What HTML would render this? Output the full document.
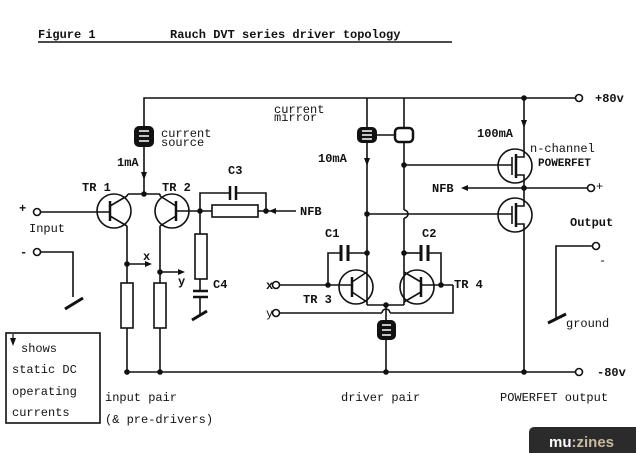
<!DOCTYPE html>
<html><head><meta charset="utf-8"><style>
html,body{margin:0;padding:0;background:#fff}
svg{display:block}
text{font-family:"Liberation Mono",monospace;fill:#111}
</style></head><body>
<svg width="636" height="453" viewBox="0 0 636 453" xmlns="http://www.w3.org/2000/svg">
<g stroke="#111" stroke-width="1.6" fill="none">
<line x1="38" y1="42" x2="452" y2="42"/>
<polyline points="144,126 144,98 575,98"/>
<circle cx="579" cy="98" r="3.5"/>
<line x1="144" y1="147" x2="144" y2="194"/>
<line x1="128" y1="194" x2="160" y2="194"/>
<circle cx="114" cy="211" r="17"/>
<line x1="110" y1="201" x2="110" y2="221" stroke-width="2.5"/>
<line x1="41" y1="212" x2="110" y2="212"/>
<line x1="110" y1="206" x2="127" y2="196"/><line x1="127" y1="196" x2="128" y2="194"/>
<line x1="110" y1="216" x2="127" y2="226"/>
<line x1="127" y1="226" x2="127" y2="372"/>
<circle cx="172" cy="211" r="17"/>
<line x1="176" y1="201" x2="176" y2="221" stroke-width="2.5"/>
<line x1="176" y1="211" x2="267" y2="211"/>
<line x1="176" y1="206" x2="160" y2="196"/><line x1="160" y1="196" x2="160" y2="194"/>
<line x1="176" y1="216" x2="160" y2="226"/>
<line x1="160" y1="226" x2="160" y2="372"/>
<line x1="127" y1="264" x2="145" y2="264"/>
<line x1="160" y1="272" x2="178" y2="272"/>
<circle cx="37" cy="212" r="3.5"/>
<circle cx="37" cy="252" r="3.5"/>
<polyline points="41,252 73,252 73,297"/>
<line x1="65" y1="309" x2="83" y2="298" stroke-width="3"/>
<rect x="121" y="283" width="12" height="45" fill="#fff"/>
<rect x="154" y="283" width="12" height="45" fill="#fff"/>
<polyline points="200,211 200,193 229,193"/>
<polyline points="237,193 266,193 266,211"/>
<line x1="230" y1="186" x2="230" y2="200" stroke-width="2.5"/>
<line x1="236" y1="186" x2="236" y2="200" stroke-width="2.5"/>
<rect x="212" y="205" width="46" height="12" fill="#fff"/>
<line x1="266" y1="211" x2="296" y2="211"/>
<line x1="200" y1="211" x2="200" y2="290"/>
<rect x="195" y="234" width="12" height="45" fill="#fff"/>
<line x1="193" y1="291" x2="208" y2="291" stroke-width="2.5"/>
<line x1="193" y1="297" x2="208" y2="297" stroke-width="2.5"/>
<line x1="200" y1="297" x2="200" y2="314"/>
<line x1="192" y1="320" x2="207" y2="311" stroke-width="3"/>
<line x1="127" y1="372" x2="575" y2="372"/>
<circle cx="579" cy="372" r="3.5"/>
<line x1="367" y1="98" x2="367" y2="127"/>
<line x1="404" y1="98" x2="404" y2="128"/>
<line x1="377" y1="135" x2="395" y2="135"/>
<rect x="395" y="128" width="18" height="14" rx="4" stroke-width="2.5"/>
<line x1="367" y1="143" x2="367" y2="305"/>
<line x1="404" y1="142" x2="404" y2="210"/>
<path d="M404,210 a4,4 0 0 1 0,8"/>
<line x1="404" y1="218" x2="404" y2="305"/>
<line x1="404" y1="165" x2="512" y2="165"/>
<line x1="367" y1="214" x2="512" y2="214"/>
<polyline points="367,253 349,253"/><polyline points="341,253 328,253 328,285"/>
<line x1="341" y1="245" x2="341" y2="261" stroke-width="3"/>
<line x1="348" y1="245" x2="348" y2="261" stroke-width="3"/>
<polyline points="404,253 420,253"/><polyline points="428,253 441,253 441,285"/>
<line x1="421" y1="245" x2="421" y2="261" stroke-width="3"/>
<line x1="428" y1="245" x2="428" y2="261" stroke-width="3"/>
<circle cx="356" cy="287" r="17"/>
<line x1="352" y1="277" x2="352" y2="297" stroke-width="2.5"/>
<line x1="280" y1="285" x2="352" y2="285"/>
<line x1="352" y1="282" x2="367" y2="272"/>
<line x1="352" y1="292" x2="367" y2="302"/>
<circle cx="417" cy="287" r="17"/>
<line x1="421" y1="277" x2="421" y2="297" stroke-width="2.5"/>
<line x1="421" y1="285" x2="453" y2="285"/>
<line x1="421" y1="282" x2="404" y2="272"/>
<line x1="421" y1="292" x2="404" y2="302"/>
<line x1="367" y1="305" x2="404" y2="305"/>
<circle cx="276" cy="285" r="3.5"/>
<circle cx="276" cy="313" r="3.5"/>
<line x1="280" y1="313" x2="382" y2="313"/>
<path d="M382,313 a4,4 0 0 1 8,0"/>
<polyline points="390,313 453,313 453,285"/>
<line x1="386" y1="305" x2="386" y2="320"/>
<line x1="386" y1="340" x2="386" y2="372"/>
<line x1="524" y1="98" x2="524" y2="150"/>
<line x1="524" y1="180" x2="524" y2="199"/>
<line x1="524" y1="229" x2="524" y2="372"/>
<circle cx="515" cy="166" r="17"/>
<line x1="512" y1="157" x2="512" y2="175"/>
<line x1="516" y1="154" x2="516" y2="178" stroke-width="2.5"/>
<polyline points="516,157 524,157 524,150"/>
<polyline points="516,175 524,175 524,180"/>
<circle cx="515" cy="215" r="17"/>
<line x1="512" y1="206" x2="512" y2="224"/>
<line x1="516" y1="203" x2="516" y2="227" stroke-width="2.5"/>
<polyline points="516,206 524,206 524,199"/>
<polyline points="516,224 524,224 524,229"/>
<line x1="468" y1="188" x2="588" y2="188"/>
<circle cx="591" cy="188" r="3.5"/>
<circle cx="596" cy="246" r="3.5"/>
<polyline points="592,246 556,246 556,318"/>
<line x1="548" y1="323" x2="566" y2="314" stroke-width="3"/>
<rect x="6" y="333" width="94" height="90"/>
</g>
<g fill="#111">
<rect x="134" y="126" width="20" height="21" rx="5"/>
<rect x="357" y="127" width="20" height="16" rx="5"/>
<rect x="377" y="320" width="19" height="20" rx="5"/>
</g>
<g stroke="#fff" stroke-width="1.5">
<line x1="139" y1="131" x2="149" y2="131"/><line x1="139" y1="136" x2="149" y2="136"/><line x1="139" y1="141" x2="149" y2="141"/>
<line x1="362" y1="131" x2="372" y2="131"/><line x1="362" y1="135" x2="372" y2="135"/><line x1="362" y1="139" x2="372" y2="139"/>
<line x1="382" y1="325" x2="391" y2="325"/><line x1="382" y1="330" x2="391" y2="330"/><line x1="382" y1="335" x2="391" y2="335"/>
</g>
<g fill="#111">
<circle cx="144" cy="194" r="2.8"/><circle cx="127" cy="264" r="2.8"/><circle cx="160" cy="272" r="2.8"/>
<circle cx="200" cy="211" r="2.8"/><circle cx="266" cy="211" r="2.8"/>
<circle cx="127" cy="372" r="2.8"/><circle cx="160" cy="372" r="2.8"/><circle cx="386" cy="372" r="2.8"/><circle cx="524" cy="372" r="2.8"/>
<circle cx="524" cy="98" r="2.8"/><circle cx="404" cy="165" r="2.8"/><circle cx="367" cy="214" r="2.8"/>
<circle cx="367" cy="253" r="2.8"/><circle cx="404" cy="253" r="2.8"/><circle cx="328" cy="285" r="2.8"/><circle cx="441" cy="285" r="2.8"/>
<circle cx="386" cy="305" r="2.8"/><circle cx="524" cy="188" r="2.8"/>
<polygon points="141,172 147,172 144,180"/>
<polygon points="364,158 370,158 367,166"/>
<polygon points="521,120 527,120 524,128"/>
<polygon points="145,261 145,267 152,264"/>
<polygon points="178,269 178,275 185,272"/>
<polygon points="276,208 276,214 269,211"/>
<polygon points="468,185 468,191 461,188"/>
<polygon points="10,338 16,338 13,346"/>
<line x1="13" y1="334" x2="13" y2="340" stroke="#111" stroke-width="1.2"/>
</g>
<g font-size="12">
<text x="38" y="38" font-weight="bold">Figure 1</text>
<text x="170" y="38" font-weight="bold">Rauch DVT series driver topology</text>
<text x="161" y="137">current</text><text x="161" y="146">source</text>
<text x="274" y="113">current</text><text x="274" y="121">mirror</text>
<text x="117" y="166" font-weight="bold">1mA</text>
<text x="318" y="162" font-weight="bold">10mA</text>
<text x="477" y="137" font-weight="bold">100mA</text>
<text x="530" y="152">n-channel</text>
<text x="538" y="166" font-weight="bold" font-size="11">POWERFET</text>
<text x="82" y="191" font-weight="bold">TR 1</text>
<text x="162" y="191" font-weight="bold">TR 2</text>
<text x="228" y="174" font-weight="bold">C3</text>
<text x="213" y="288" font-weight="bold">C4</text>
<text x="300" y="215" font-weight="bold">NFB</text>
<text x="432" y="192" font-weight="bold">NFB</text>
<text x="19" y="212" font-weight="bold">+</text>
<text x="29" y="232">Input</text>
<text x="20" y="256" font-weight="bold">-</text>
<text x="143" y="260" font-weight="bold">x</text>
<text x="178" y="285" font-weight="bold">y</text>
<text x="325" y="237" font-weight="bold">C1</text>
<text x="422" y="237" font-weight="bold">C2</text>
<text x="266" y="289" font-weight="bold">x</text>
<text x="266" y="317">y</text>
<text x="303" y="303" font-weight="bold">TR 3</text>
<text x="454" y="288" font-weight="bold">TR 4</text>
<text x="595" y="102" font-weight="bold">+80v</text>
<text x="597" y="376" font-weight="bold">-80v</text>
<text x="596" y="190">+</text>
<text x="570" y="226" font-weight="bold">Output</text>
<text x="599" y="264">-</text>
<text x="566" y="327">ground</text>
<text x="21" y="352">shows</text>
<text x="12" y="373">static DC</text>
<text x="12" y="395">operating</text>
<text x="12" y="416">currents</text>
<text x="105" y="401">input pair</text>
<text x="105" y="423">(&amp; pre-drivers)</text>
<text x="341" y="401">driver pair</text>
<text x="500" y="401">POWERFET output</text>
</g>
<rect x="529" y="427" width="112" height="30" rx="5" fill="#2b2b2b"/>
<text x="549" y="447" style="font-family:'Liberation Sans',sans-serif;font-size:15px;font-weight:bold;fill:#fff">mu<tspan style="fill:#c9b9a0">:zines</tspan></text>
</svg>
</body></html>
